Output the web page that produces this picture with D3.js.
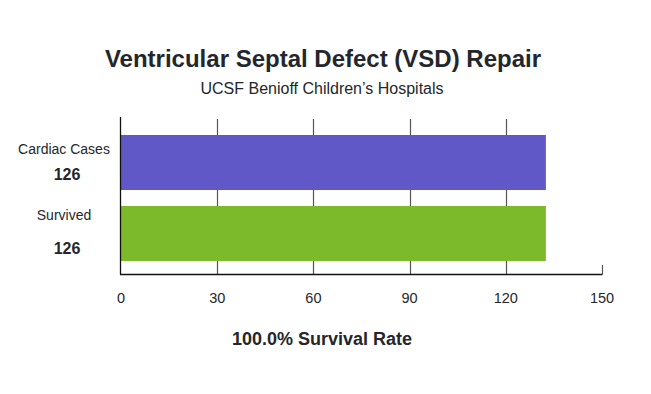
<!DOCTYPE html>
<html>
<head>
<meta charset="utf-8">
<script src="https://cdn.jsdelivr.net/npm/d3@7"></script>
<style>
  body { margin: 0; background: #fff; }
  text { font-family: "Liberation Sans", Arial, Helvetica, sans-serif; fill: #23272b; }
</style>
</head>
<body>
<div id="chart"></div>
<script>
// chart data
var categories = ["Cardiac Cases", "Survived"];
var counts     = [126, 126];          // numbers printed under the labels
var barLengths = [132.5, 132.5];      // bar ends as drawn in the picture
var barColors  = ["#6158c8", "#7cb92b"];
var tickValues = [0, 30, 60, 90, 120, 150];
var titleText    = "Ventricular Septal Defect (VSD) Repair";
var subtitleText = "UCSF Benioff Children\u2019s Hospitals";
var footerText   = "100.0% Survival Rate";

var width = 651, height = 394;
var plot = { left: 121, right: 602, top: 117, bottom: 274 };

var svg = d3.select("#chart")
  .append("svg")
  .attr("width", width)
  .attr("height", height);

var x = d3.scaleLinear()
  .domain([0, 150])
  .range([plot.left, plot.right]);

var y = d3.scaleBand()
  .domain(categories)
  .range([135, 261])
  .paddingInner(0.225)
  .paddingOuter(0);

// Titles
svg.append("text")
  .attr("x", 323)
  .attr("y", 67)
  .attr("text-anchor", "middle")
  .attr("font-size", 24)
  .attr("font-weight", "bold")
  .text(titleText);

svg.append("text")
  .attr("x", 322)
  .attr("y", 94)
  .attr("text-anchor", "middle")
  .attr("font-size", 16)
  .text(subtitleText);

// Grid lines
svg.selectAll("line.grid")
  .data(tickValues.filter(function(d) { return d > 0 && d < 150; }))
  .enter()
  .append("line")
  .attr("class", "grid")
  .attr("x1", function(d) { return Math.round(x(d)) + 0.5; })
  .attr("x2", function(d) { return Math.round(x(d)) + 0.5; })
  .attr("y1", 119)
  .attr("y2", plot.bottom)
  .style("stroke", "#555")
  .style("stroke-width", "1.2px");

// Bars
svg.selectAll("rect.bar")
  .data(categories)
  .enter()
  .append("rect")
  .attr("class", "bar")
  .attr("x", x(0))
  .attr("y", function(d) { return y(d); })
  .attr("width", function(d, i) { return x(barLengths[i]) - x(0); })
  .attr("height", y.bandwidth())
  .style("fill", function(d, i) { return barColors[i]; });

// Axis lines
svg.append("line")
  .attr("x1", plot.left - 0.5).attr("x2", plot.left - 0.5)
  .attr("y1", plot.top).attr("y2", plot.bottom + 0.5)
  .style("stroke", "#111").style("stroke-width", "1.3px");

svg.append("line")
  .attr("x1", plot.left - 1).attr("x2", plot.right + 0.5)
  .attr("y1", plot.bottom + 0.5).attr("y2", plot.bottom + 0.5)
  .style("stroke", "#111").style("stroke-width", "1.3px");

svg.append("line")
  .attr("x1", Math.round(x(150)) + 0.5).attr("x2", Math.round(x(150)) + 0.5)
  .attr("y1", plot.bottom - 9).attr("y2", plot.bottom + 0.5)
  .style("stroke", "#555").style("stroke-width", "1.2px");

// Tick labels
svg.selectAll("text.tick")
  .data(tickValues)
  .enter()
  .append("text")
  .attr("class", "tick")
  .attr("x", function(d) { return x(d); })
  .attr("y", 303)
  .attr("text-anchor", "middle")
  .attr("font-size", 14.5)
  .text(function(d) { return d; });

// Category labels and counts
svg.selectAll("text.cat")
  .data(categories)
  .enter()
  .append("text")
  .attr("class", "cat")
  .attr("x", 64)
  .attr("y", function(d, i) { return y(d) + (i === 0 ? 19 : 14); })
  .attr("text-anchor", "middle")
  .attr("font-size", 14)
  .text(function(d) { return d; });

svg.selectAll("text.count")
  .data(counts)
  .enter()
  .append("text")
  .attr("class", "count")
  .attr("x", 67)
  .attr("y", function(d, i) { return y(categories[i]) + (i === 0 ? 45 : 48); })
  .attr("text-anchor", "middle")
  .attr("font-size", 16)
  .attr("font-weight", "bold")
  .text(function(d) { return d; });

// Footer
svg.append("text")
  .attr("x", 322)
  .attr("y", 345)
  .attr("text-anchor", "middle")
  .attr("font-size", 18)
  .attr("font-weight", "bold")
  .text(footerText);
</script>
</body>
</html>
